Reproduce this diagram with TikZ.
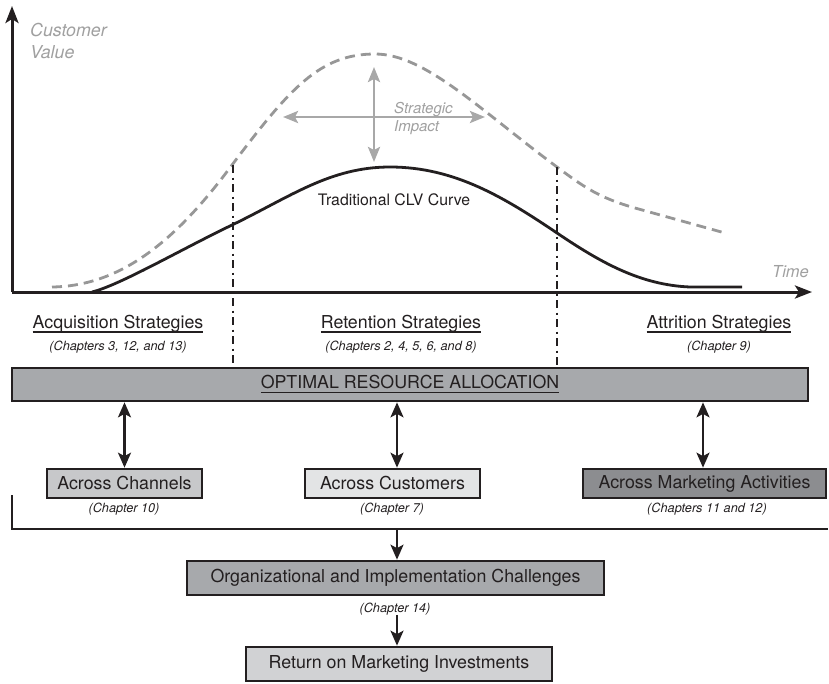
\documentclass[tikz,border=0pt]{standalone}
\usepackage{fontspec}
\setmainfont{TeX Gyre Heros}
\usetikzlibrary{arrows.meta}
\definecolor{ink}{HTML}{231F20}
\definecolor{lgray}{HTML}{A0A0A0}
\definecolor{dashgray}{HTML}{979797}
\definecolor{arrgray}{HTML}{A8A8A8}
\definecolor{fillmid}{HTML}{A7A9AC}
\definecolor{fillch}{HTML}{C7C8CA}
\definecolor{fillcu}{HTML}{E3E4E5}
\definecolor{filldark}{HTML}{8C8D90}
\definecolor{fillret}{HTML}{D1D2D4}
\newcommand\ulin[1]{\setbox0\hbox{#1}\rlap{\rule[-4.6pt]{\wd0}{1.8pt}}\box0}
\tikzset{
  big/.style={font=\fontsize{17.8}{21}\selectfont, text=ink, inner sep=0pt},
  chap/.style={font=\fontsize{12.7}{15}\selectfont\itshape, text=ink, inner sep=0pt, anchor=base},
  graytxt/.style={text=lgray, inner sep=0pt, anchor=base west},
  boxnode/.style={draw=ink, line width=2.7pt, inner sep=0pt, font=\fontsize{17.8}{21}\selectfont, text=ink},
  dbl/.style={{Stealth[length=15pt,width=13pt,inset=3.5pt]}-{Stealth[length=15pt,width=13pt,inset=3.5pt]}, line width=2.4pt, draw=ink},
  downarr/.style={-{Stealth[length=15pt,width=13pt,inset=3.5pt]}, line width=2.4pt, draw=ink},
  axisline/.style={-{Stealth[length=17pt,width=13pt,inset=4pt]}, line width=3pt, draw=ink},
  garr/.style={{Stealth[length=15pt,width=12pt,inset=3pt]}-{Stealth[length=15pt,width=12pt,inset=3pt]}, line width=2.7pt, draw=arrgray},
  vline/.style={line width=2.6pt, draw=ink, dash pattern=on 8pt off 4.5pt on 2pt off 4.5pt},
}
\begin{document}
\begin{tikzpicture}[x=1pt,y=-1pt]
\useasboundingbox (0,0) rectangle (829,683);
% strategic impact arrows
\coordinate (gvt) at (374,67);
\coordinate (gvb) at (374,162);
\coordinate (ghl) at (283,117);
\coordinate (ghr) at (485,117);
\draw[garr] (gvt) -- (gvb);
\draw[garr] (ghl) -- (ghr);
\node[graytxt, font=\fontsize{15}{18}\selectfont\itshape] (strat) at (394,113) {Strategic};
\node[graytxt, font=\fontsize{15}{18}\selectfont\itshape] (impact) at (394,131) {Impact};
% curves
\draw[dashgray, line width=2.8pt, dash pattern=on 10pt off 6pt]
  (52,287) .. controls (125,286) and (180,235) .. (232,165)
  .. controls (290,88) and (320,54) .. (375,54)
  .. controls (425,54) and (480,110) .. (557,167)
  .. controls (585,188) and (600,198) .. (635,208) -- (725,233);
\draw[ink, line width=2.8pt]
  (92,292) .. controls (120,285) and (180,250) .. (232,225)
  .. controls (290,197) and (330,167) .. (390,167)
  .. controls (455,167) and (505,198) .. (557,233)
  .. controls (600,262) and (640,285) .. (690,287) -- (742,287);
\node[big, font=\fontsize{15.8}{19}\selectfont, anchor=base] (clv) at (394,205) {Traditional CLV Curve};
% dash-dot separators
\coordinate (v1t) at (233,165);
\coordinate (v1b) at (233,366);
\coordinate (v2t) at (557,167);
\coordinate (v2b) at (557,366);
\draw[vline] (v1t) -- (v1b);
\draw[vline] (v2t) -- (v2b);
% axes
\coordinate (O) at (12,292);
\coordinate (ytop) at (12,6);
\coordinate (xend) at (812,292);
\draw[axisline] (O) -- (ytop);
\draw[axisline] (O) -- (xend);
\node[graytxt, font=\fontsize{17.8}{21}\selectfont\itshape] (cust) at (30,36) {Customer};
\node[graytxt, font=\fontsize{17.8}{21}\selectfont\itshape] (val) at (30,58) {Value};
\node[graytxt, font=\fontsize{16.5}{20}\selectfont\itshape] (time) at (772,277) {Time};
% strategies
\node[big, anchor=base] (acq) at (118,328) {\ulin{Acquisition Strategies}};
\node[chap] (acqc) at (118,350) {(Chapters 3, 12, and 13)};
\node[big, anchor=base] (ret) at (401,328) {\ulin{Retention Strategies}};
\node[chap] (retc) at (401,350) {(Chapters 2, 4, 5, 6, and 8)};
\node[big, anchor=base] (att) at (719,328) {\ulin{Attrition Strategies}};
\node[chap] (attc) at (719,350) {(Chapter 9)};
% optimal resource allocation
\node[boxnode, fill=fillmid, minimum width=796pt, minimum height=33pt] (opt) at (410,384.5) {\ulin{OPTIMAL RESOURCE ALLOCATION}};
% across boxes
\node[boxnode, fill=fillch, minimum width=155pt, minimum height=29pt] (ch) at (124.5,483.5) {Across Channels};
\node[boxnode, fill=fillcu, minimum width=175pt, minimum height=29pt] (cu) at (392.5,483.5) {Across Customers};
\node[boxnode, fill=filldark, minimum width=243pt, minimum height=29pt] (ma) at (704.5,483.5) {Across Marketing Activities};
\node[chap] (c10) at (124,512) {(Chapter 10)};
\node[chap] (c7) at (392,512) {(Chapter 7)};
\node[chap] (c1112) at (707,512) {(Chapters 11 and 12)};
\coordinate (a1) at (124.5,0);
\coordinate (a2) at (397,0);
\coordinate (a3) at (703,0);
\draw[dbl] (opt.south -| a1) -- (ch.north -| a1);
\draw[dbl] (opt.south -| a2) -- (cu.north -| a2);
\draw[dbl] (opt.south -| a3) -- (ma.north -| a3);
% bracket
\coordinate (bl) at (12,495);
\coordinate (bc) at (12,529);
\coordinate (br) at (828,529);
\draw[ink, line width=2.7pt] (bl) -- (bc) -- (br);
% lower chain
\node[boxnode, fill=fillmid, minimum width=417pt, minimum height=34pt] (org) at (395.5,578) {Organizational and Implementation Challenges};
\node[chap] (c14) at (395,612) {(Chapter 14)};
\node[boxnode, fill=fillret, minimum width=306pt, minimum height=34pt] (roi) at (399,664) {Return on Marketing Investments};
\draw[downarr] (bc -| a2) -- (org.north -| a2);
\draw[downarr] (c14.south -| a2) -- (roi.north -| a2);
\end{tikzpicture}
\end{document}
